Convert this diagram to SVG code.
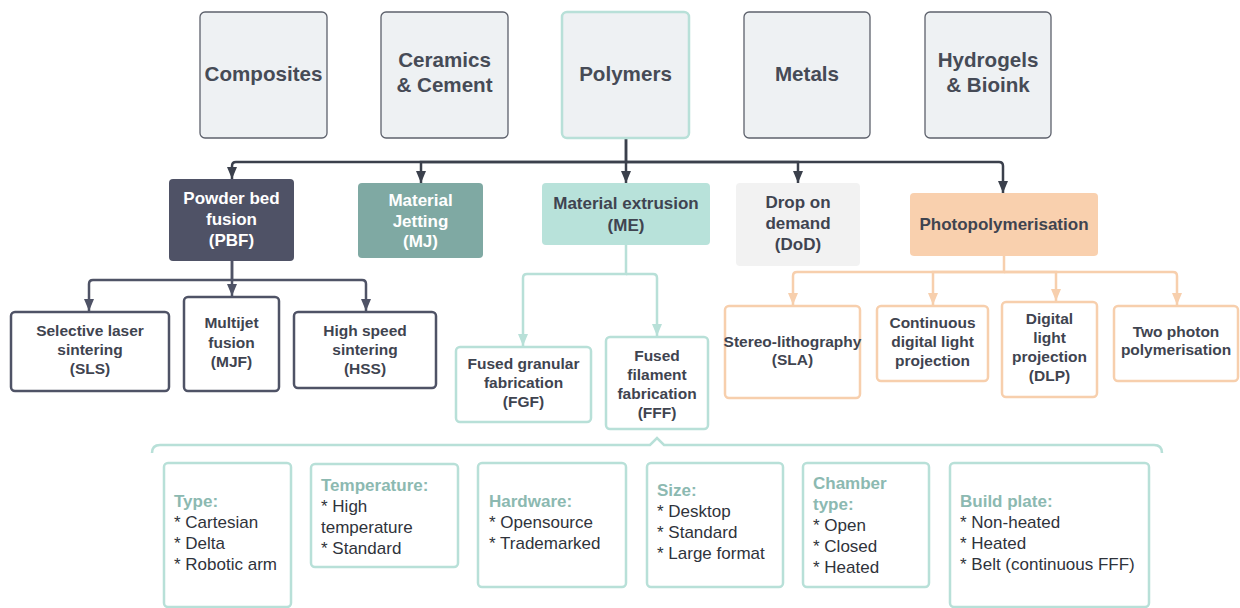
<svg xmlns="http://www.w3.org/2000/svg" width="1240" height="608" viewBox="0 0 1240 608">
<style>
text{font-family:"Liberation Sans",Arial,sans-serif;}
.top{fill:#eef1f3;stroke:#5d616c;stroke-width:1.3;}
.tt{font-size:20.6px;font-weight:bold;fill:#464b56;text-anchor:middle;}
.bt{font-size:17px;font-weight:bold;text-anchor:middle;}
.st{font-size:15.5px;font-weight:bold;fill:#3f4450;text-anchor:middle;}
.dk{fill:#fff;stroke:#4f5366;stroke-width:2.5;}
.or{fill:#fff;stroke:#f7cfad;stroke-width:2.5;}
.tl{fill:#fff;stroke:#b8e0d8;stroke-width:2.5;}
.hd{font-size:17px;font-weight:bold;fill:#8cb9b1;}
.it{font-size:17px;fill:#2f333b;}
.c1{fill:none;stroke:#3b404c;stroke-width:2.5;}
.c2{fill:none;stroke:#4f5366;stroke-width:2.5;}
.c3{fill:none;stroke:#b8e0d8;stroke-width:2.5;}
.c4{fill:none;stroke:#f7cfad;stroke-width:2.5;}
</style>
<defs>
<marker id="aD" viewBox="0 0 12 10" refX="12" refY="5" markerWidth="12" markerHeight="10" markerUnits="userSpaceOnUse" orient="auto"><path d="M0,0 L12,5 L0,10 z" fill="#3b404c"/></marker>
<marker id="aS" viewBox="0 0 12 10" refX="12" refY="5" markerWidth="12" markerHeight="10" markerUnits="userSpaceOnUse" orient="auto"><path d="M0,0 L12,5 L0,10 z" fill="#4f5366"/></marker>
<marker id="aT" viewBox="0 0 12 10" refX="12" refY="5" markerWidth="12" markerHeight="10" markerUnits="userSpaceOnUse" orient="auto"><path d="M0,0 L12,5 L0,10 z" fill="#b8e0d8"/></marker>
<marker id="aO" viewBox="0 0 12 10" refX="12" refY="5" markerWidth="12" markerHeight="10" markerUnits="userSpaceOnUse" orient="auto"><path d="M0,0 L12,5 L0,10 z" fill="#f7cfad"/></marker>
</defs>
<rect width="1240" height="608" fill="#fff"/>

<g id="connectors">
<path class="c1" d="M626,138 V162 H236 Q232,162 232,166 V179" marker-end="url(#aD)"/>
<path class="c1" d="M626,162 H421 V183" marker-end="url(#aD)"/>
<path class="c1" d="M626,138 V183" marker-end="url(#aD)"/>
<path class="c1" d="M626,162 H798 V183" marker-end="url(#aD)"/>
<path class="c1" d="M626,162 H999 Q1003,162 1003,166 V193" marker-end="url(#aD)"/>
<path class="c2" d="M232,261 V280 H93 Q89,280 89,284 V311" marker-end="url(#aS)"/>
<path class="c2" d="M232,261 V296" marker-end="url(#aS)"/>
<path class="c2" d="M232,280 H362 Q366,280 366,284 V311" marker-end="url(#aS)"/>
<path class="c3" d="M626,245 V274 H527 Q523,274 523,278 V346" marker-end="url(#aT)"/>
<path class="c3" d="M626,274 H653 Q657,274 657,278 V336" marker-end="url(#aT)"/>
<path class="c4" d="M1004,256 V272 H797 Q793,272 793,276 V305" marker-end="url(#aO)"/>
<path class="c4" d="M1004,272 H933 V305" marker-end="url(#aO)"/>
<path class="c4" d="M1004,272 H1056 V301" marker-end="url(#aO)"/>
<path class="c4" d="M1004,272 H1173 Q1177,272 1177,276 V305" marker-end="url(#aO)"/>
<path class="c3" d="M152,453 Q152,445 160,445 H650 L657,438 L664,445 H1154 Q1162,445 1162,453"/>
</g>

<g id="composites"><rect class="top" x="200" y="12" width="127" height="126" rx="5"/><text class="tt" x="263.5" y="81">Composites</text></g>
<g id="ceramics"><rect class="top" x="381" y="12" width="127" height="126" rx="5"/><text class="tt" x="444.5" y="67">Ceramics</text><text class="tt" x="444.5" y="92">&amp; Cement</text></g>
<g id="polymers"><rect x="562" y="12" width="127" height="126" rx="5" fill="#eef1f3" stroke="#b8e0d8" stroke-width="2.5"/><text class="tt" x="625.5" y="81">Polymers</text></g>
<g id="metals"><rect class="top" x="744" y="12" width="126" height="126" rx="5"/><text class="tt" x="807" y="81">Metals</text></g>
<g id="hydrogels"><rect class="top" x="925" y="12" width="126" height="126" rx="5"/><text class="tt" x="988" y="67">Hydrogels</text><text class="tt" x="988" y="92">&amp; Bioink</text></g>

<g id="pbf"><rect x="169" y="179" width="125" height="82" rx="4" fill="#4f5266"/><text class="bt" fill="#fff" x="231.5" y="204">Powder bed</text><text class="bt" fill="#fff" x="231.5" y="225">fusion</text><text class="bt" fill="#fff" x="231.5" y="246">(PBF)</text></g>
<g id="mj"><rect x="358" y="183" width="125" height="75" rx="4" fill="#7fa9a3"/><text class="bt" fill="#fff" x="420.5" y="206">Material</text><text class="bt" fill="#fff" x="420.5" y="227">Jetting</text><text class="bt" fill="#fff" x="420.5" y="247">(MJ)</text></g>
<g id="me"><rect x="542" y="183" width="168" height="62" rx="4" fill="#b8e2da"/><text class="bt" fill="#3f4450" x="626" y="209">Material extrusion</text><text class="bt" fill="#3f4450" x="626" y="231">(ME)</text></g>
<g id="dod"><rect x="736" y="183" width="124" height="83" rx="4" fill="#f2f2f2"/><text class="bt" fill="#3f4450" x="798" y="208">Drop on</text><text class="bt" fill="#3f4450" x="798" y="229">demand</text><text class="bt" fill="#3f4450" x="798" y="250">(DoD)</text></g>
<g id="photo"><rect x="910" y="193" width="188" height="63" rx="4" fill="#f9d0ae"/><text class="bt" fill="#3f4450" x="1004" y="230" font-size="16.5">Photopolymerisation</text></g>

<g id="sls"><rect class="dk" x="11" y="312" width="158" height="79" rx="4"/><text class="st" x="90" y="336">Selective laser</text><text class="st" x="90" y="355">sintering</text><text class="st" x="90" y="374">(SLS)</text></g>
<g id="mjf"><rect class="dk" x="184" y="297" width="95" height="94" rx="4"/><text class="st" x="231.5" y="328">Multijet</text><text class="st" x="231.5" y="348">fusion</text><text class="st" x="231.5" y="367">(MJF)</text></g>
<g id="hss"><rect class="dk" x="294" y="312" width="142" height="76" rx="4"/><text class="st" x="365" y="336">High speed</text><text class="st" x="365" y="355">sintering</text><text class="st" x="365" y="374">(HSS)</text></g>

<g id="fgf"><rect class="tl" x="456" y="347" width="135" height="75" rx="4"/><text class="st" x="523.5" y="369">Fused granular</text><text class="st" x="523.5" y="388">fabrication</text><text class="st" x="523.5" y="407">(FGF)</text></g>
<g id="fff"><rect class="tl" x="606" y="337" width="102" height="92" rx="4"/><text class="st" x="657" y="361">Fused</text><text class="st" x="657" y="380">filament</text><text class="st" x="657" y="399">fabrication</text><text class="st" x="657" y="418">(FFF)</text></g>

<g id="sla"><rect class="or" x="725" y="306" width="135" height="92" rx="4"/><text class="st" x="792.5" y="347" font-size="15">Stereo-lithography</text><text class="st" x="792.5" y="365">(SLA)</text></g>
<g id="cdlp"><rect class="or" x="877" y="306" width="111" height="75" rx="4"/><text class="st" x="932.5" y="328">Continuous</text><text class="st" x="932.5" y="347">digital light</text><text class="st" x="932.5" y="366">projection</text></g>
<g id="dlp"><rect class="or" x="1002" y="302" width="95" height="95" rx="4"/><text class="st" x="1049.5" y="324">Digital</text><text class="st" x="1049.5" y="343">light</text><text class="st" x="1049.5" y="362">projection</text><text class="st" x="1049.5" y="381">(DLP)</text></g>
<g id="tpp"><rect class="or" x="1114" y="306" width="124" height="75" rx="4"/><text class="st" x="1176" y="337">Two photon</text><text class="st" x="1176" y="355" font-size="15">polymerisation</text></g>

<g id="type"><rect class="tl" x="164" y="463" width="127" height="144" rx="4"/><text class="hd" x="174" y="507">Type:</text><text class="it" x="174" y="528">* Cartesian</text><text class="it" x="174" y="549">* Delta</text><text class="it" x="174" y="570">* Robotic arm</text></g>
<g id="temperature"><rect class="tl" x="311" y="464" width="147" height="103" rx="4"/><text class="hd" x="321" y="491">Temperature:</text><text class="it" x="321" y="512">* High</text><text class="it" x="321" y="533">temperature</text><text class="it" x="321" y="554">* Standard</text></g>
<g id="hardware"><rect class="tl" x="478" y="463" width="148" height="124" rx="4"/><text class="hd" x="489" y="507">Hardware:</text><text class="it" x="489" y="528">* Opensource</text><text class="it" x="489" y="549">* Trademarked</text></g>
<g id="size"><rect class="tl" x="647" y="463" width="136" height="124" rx="4"/><text class="hd" x="657" y="496">Size:</text><text class="it" x="657" y="517">* Desktop</text><text class="it" x="657" y="538">* Standard</text><text class="it" x="657" y="559">* Large format</text></g>
<g id="chamber"><rect class="tl" x="803" y="463" width="126" height="124" rx="4"/><text class="hd" x="813" y="489">Chamber</text><text class="hd" x="813" y="510">type:</text><text class="it" x="813" y="531">* Open</text><text class="it" x="813" y="552">* Closed</text><text class="it" x="813" y="573">* Heated</text></g>
<g id="buildplate"><rect class="tl" x="950" y="463" width="199" height="144" rx="4"/><text class="hd" x="960" y="507">Build plate:</text><text class="it" x="960" y="528">* Non-heated</text><text class="it" x="960" y="549">* Heated</text><text class="it" x="960" y="570">* Belt (continuous FFF)</text></g>
</svg>
